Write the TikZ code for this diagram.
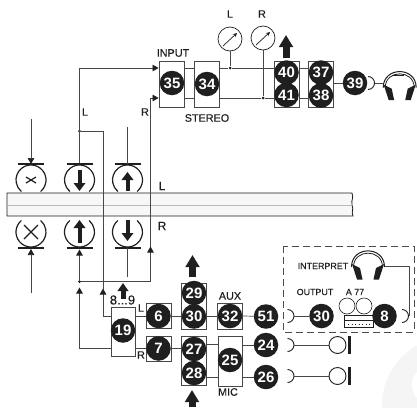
\documentclass[tikz,border=0pt]{standalone}
\usepackage{fontspec}
\setmainfont{Liberation Sans}
\newfontfamily\labfont[FakeBold=0.25]{Liberation Sans}
\usetikzlibrary{arrows.meta}
\definecolor{ink}{gray}{0.12}
\definecolor{wire}{gray}{0.28}
\tikzset{
  x=1pt,y=-1pt,
  wireline/.style={draw=wire,line width=0.7pt},
  tip/.style={-{Triangle[length=6pt,width=6.5pt,color=ink]}},
  num/.style={circle,fill=ink,text=white,inner sep=0pt,minimum size=24.5pt,font=\fontsize{15}{15}\selectfont\bfseries},
  cell/.style={draw=wire,line width=0.8pt,inner sep=0pt,fill=white},
  lab/.style={inner sep=0pt,font=\fontsize{10.8}{11}\labfont,text=ink},
  smalllab/.style={inner sep=0pt,font=\fontsize{8.9}{10}\labfont,text=ink},
  bigarrow/.style={draw=ink,line width=7pt,-{Triangle[length=12pt,width=13.5pt,color=ink]}},
  midarrow/.style={draw=ink,line width=5pt,-{Triangle[length=8pt,width=10.5pt,color=ink]}},
  headarrow/.style={draw=ink,line width=4pt,-{Triangle[length=8pt,width=11.5pt,color=ink]}},
  headbar/.style={draw=ink,line width=2.6pt},
  junction/.style={circle,fill=ink,inner sep=0pt,minimum size=3pt},
  gauge/.style={circle,draw=ink,line width=0.7pt,inner sep=0pt,minimum size=24pt,fill=white},
  phones/.pic={
    \draw[ink,line width=1pt] (-16.5,17) .. controls (-16.5,-4.5) and (16.5,-4.5) .. (16.5,17);
    \draw[ink,line width=0.8pt] (-14.5,17) .. controls (-14.5,-1.5) and (14.5,-1.5) .. (14.5,17);
    \fill[ink] (-16,14) -- (-8,18) -- (-5.5,29.5) -- (-11,29.5) -- cycle;
    \fill[ink] (16,14) -- (8,18) -- (5.5,29.5) -- (11,29.5) -- cycle;
  },
  mic/.pic={
    \draw[ink,line width=0.9pt,fill=white] (0,0) circle[radius=8.5pt];
    \draw[ink,line width=3pt] (11.5,-9) -- (11.5,9);
  }
}
\newcommand{\jackarc}[1]{\draw[ink,line width=0.9pt] ([shift={(90:6.5pt)}]#1) arc[start angle=90,end angle=-90,radius=6.5pt];}
\newcommand{\headtop}[1]{\draw[ink,line width=1.2pt] ([shift={(-50:15pt)}]#1) arc[start angle=-50,end angle=230,radius=15pt];}
\newcommand{\headbot}[1]{\draw[ink,line width=1.2pt] ([shift={(130:15pt)}]#1) arc[start angle=130,end angle=410,radius=15pt];}
\begin{document}
\begin{tikzpicture}
\useasboundingbox (0,0) rectangle (417,407);
% faint disc in the corner
\begin{scope}
\clip (0,0) rectangle (417,407);
\fill[gray!8] (450,405) circle[radius=68pt];
\fill[white] (432,385) circle[radius=20pt];
\end{scope}
% tape
\path[fill=gray!6,draw=ink,line width=0.8pt] (7,193) -- (352,193) .. controls (354,199) and (351,199) .. (352,205) .. controls (354,210) and (351,211) .. (353,216) -- (7,216) -- cycle;
\draw[gray!55,line width=0.8pt] (7,205) -- (352,205);

% upper heads
\coordinate (ht1) at (31,180); \coordinate (ht2) at (79.5,180); \coordinate (ht3) at (127.5,180);
\coordinate (hb1) at (31,232); \coordinate (hb2) at (79.5,232); \coordinate (hb3) at (127.5,232);
\headtop{ht1}\headtop{ht2}\headtop{ht3}
\headbot{hb1}\headbot{hb2}\headbot{hb3}
\foreach \c in {ht1,ht2,ht3}{\draw[headbar] ([shift={(-13,-16)}]\c) -- ([shift={(13,-16)}]\c);}
\foreach \c in {hb1,hb2,hb3}{\draw[headbar] ([shift={(-13,16)}]\c) -- ([shift={(13,16)}]\c);}
\draw[ink,line width=1.2pt] (26,177) -- (36,183) (26,183) -- (36,177);
\draw[ink,line width=1.2pt] (24,225) -- (38,239) (24,239) -- (38,225);
\draw[headarrow] (ht2|-0,170) -- (ht2|-0,191);
\draw[headarrow] (ht3|-0,191) -- (ht3|-0,172);
\draw[headarrow] (hb2|-0,243) -- (hb2|-0,220);
\draw[headarrow] (hb3|-0,220) -- (hb3|-0,241);

% boxes and numbers
\node[cell,minimum width=25pt,minimum height=46pt] (b35) at (171.5,84) {};
\node[cell,minimum width=25pt,minimum height=46pt] (b34) at (207,84) {};
\node[cell,minimum width=25pt,minimum height=46pt] (b40) at (286.5,84) {};
\node[cell,minimum width=25pt,minimum height=46pt] (b37) at (321,84) {};
\node[cell,minimum width=24pt,minimum height=49pt] (b19) at (123,331.5) {};
\node[cell,minimum width=25pt,minimum height=25pt] (b6) at (158.5,316) {};
\node[cell,minimum width=25pt,minimum height=25pt] (b7) at (158.5,348.5) {};
\node[cell,minimum width=25pt,minimum height=46pt] (b29) at (194,306) {};
\node[cell,minimum width=25pt,minimum height=49pt] (b27) at (194,360.5) {};
\node[cell,minimum width=25pt,minimum height=26pt] (b32) at (230,316) {};
\node[cell,minimum width=24pt,minimum height=50pt] (b25) at (230,361) {};

\node[num] (n35) at (172,83) {35};
\node[num] (n34) at (207,84) {34};
\node[num] (n40) at (286.5,72.5) {40};
\node[num] (n41) at (286.5,95) {41};
\node[num] (n37) at (321,72.5) {37};
\node[num] (n38) at (321,95.5) {38};
\node[num] (n39) at (355,83) {39};
\node[num] (n19) at (123,330.5) {19};
\node[num] (n6) at (158.5,316) {6};
\node[num] (n7) at (158.5,348.5) {7};
\node[num] (n29) at (194,293) {29};
\node[num] (n30) at (194,316.5) {30};
\node[num] (n27) at (194,349) {27};
\node[num] (n28) at (194,373) {28};
\node[num] (n32) at (230,316) {32};
\node[num] (n25) at (230,360) {25};
\node[num] (n51) at (266,316.5) {51};
\node[num] (n24) at (266,345) {24};
\node[num] (n26) at (266,377) {26};
\node[num] (n30b) at (321.5,316) {30};

% gauges
\node[gauge] (gl) at (230,39) {};
\node[gauge] (gr) at (263,38) {};
\draw[ink,line width=0.7pt,-{Stealth[length=4pt,width=4pt]}] (223,46) -- (237,33);
\draw[ink,line width=0.7pt,-{Stealth[length=4pt,width=4pt]}] (256,45) -- (270,32);
\coordinate (upl) at (0,68); \coordinate (lol) at (0,98);
\node[junction] (jl) at (230,68) {};
\node[junction] (jr) at (263,98) {};
\draw[wireline] (gl) -- (jl);
\draw[wireline] (gr) -- (jr);

% signal wires, upper
\draw[wireline] (b35.east|-upl) -- (b34.west|-upl);
\draw[wireline] (b35.east|-lol) -- (b34.west|-lol);
\draw[wireline] (b34.east|-upl) -- (jl) -- (b40.west|-upl);
\draw[wireline] (b34.east|-lol) -- (jr) -- (b40.west|-lol);
\draw[wireline] (b40.east|-upl) -- (b37.west|-upl);
\draw[wireline] (b40.east|-lol) -- (b37.west|-lol);
\draw[wireline] (b37.east|-n39) -- (n39);
\coordinate (phoneL) at (384,83);
\coordinate (arc39) at (368,83);
\jackarc{arc39}
\draw[wireline] (374.5,83) -- (phoneL);
\pic at (399.7,70.7) {phones};
\draw[ink,line width=0.7pt] (392,75) -- (404,75);
\draw[bigarrow] (286,58) -- (286,35);

% L / R wires through the tape
\node[junction] (jt) at (79.5,131) {};
\coordinate (gapL) at (79.5,163);
\coordinate (lup) at (79.5,68);
\draw[wireline,tip] (gapL) -- (lup) -- (b35.west|-upl);
\coordinate (cross) at (103,131);
\coordinate (corner19) at (103,316);
\draw[wireline,tip] (b19.west|-corner19) -- (corner19) -- (103,288.5);
\draw[wireline] (103,290) -- (cross) -- (jt);
\coordinate (rtop) at (150.5,98);
\coordinate (rbot) at (150.5,281.5);
\node[junction] (jb) at (79.5,281.5) {};
\draw[wireline,tip] (150.5,250) -- (rtop) -- (b35.west|-lol);
\draw[wireline,tip] (jb) -- (rbot) -- (150.5,246.5);
\draw[wireline,tip] (b19.west|-0,348.5) -- (79.5,348.5) -- (79.5,287.5);
\draw[wireline,tip] (jb) -- (79.5,249.5);
% record and erase feeds
\draw[wireline,tip] (31,119) -- (31,164);
\draw[wireline] (127.5,127) -- (127.5,164);
\draw[wireline,tip] (31,293) -- (31,249);
\draw[wireline] (127.5,277) -- (127.5,248);

% wires, lower
\draw[wireline] (b19.east|-b6) -- (b6.west);
\draw[wireline] (b19.east|-b7) -- (b7.west);
\draw[wireline] (b6.east) -- (b29.west|-b6);
\draw[wireline] (b7.east) -- (b27.west|-b7);
\draw[wireline] (b29.east|-b32) -- (b32.west);
\draw[wireline] (b27.east|-0,344) -- (b25.west|-0,344);
\draw[wireline] (b27.east|-0,377) -- (b25.west|-0,377);
\draw[wireline] (b32.east) -- (n51);
\draw[wireline] (b25.east|-n24) -- (n24);
\draw[wireline] (b25.east|-n26) -- (n26);

% jacks and microphones
\coordinate (j51) at (287.5,316); \coordinate (j24) at (287.5,345); \coordinate (j26) at (287.5,376);
\jackarc{j51}\jackarc{j24}\jackarc{j26}
\coordinate (m24) at (337.5,345); \coordinate (m26) at (337.5,376);
\draw[wireline] (294,316) -- (n30b);
\draw[wireline] (294,345) -- (m24);
\draw[wireline] (294,376) -- (m26);
\pic at (m24) {mic};
\pic at (m26) {mic};

% interpreter group
\draw[gray!60!black,line width=0.7pt,dash pattern=on 7pt off 4pt] (283,246) rectangle (414,332);
\pic at (368,250) {phones};
\coordinate (j8) at (402,316);
\jackarc{j8}
\coordinate (wa) at (409,316); \coordinate (wb) at (409,266);
\draw[wireline] (wa) -- (wb) -- (385,266);
% tape machine
\draw[ink,line width=0.6pt] (347,306) circle[radius=8pt];
\draw[ink,line width=0.6pt] (364,306) circle[radius=8pt];
\draw[ink,line width=0.6pt,fill=white] (344,315) rectangle (373,327);
\draw[ink,line width=0.5pt] (344,320) -- (373,320);
\draw[ink,line width=1pt,dash pattern=on 1pt off 2.5pt] (348,324) -- (370,324);
\node[num] (n8) at (384.5,316) {8};

% labels
\node[lab] (tInput) at (173,53) {INPUT};
\node[lab] (tStereo) at (207,118) {STEREO};
\node[lab] (tGL) at (230,14) {L};
\node[lab] (tGR) at (262,14) {R};
\node[lab] (tL1) at (85,112) {L};
\node[lab] (tR1) at (145,112) {R};
\node[lab,font=\fontsize{12}{12}\labfont] (tTL) at (162,186) {L};
\node[lab,font=\fontsize{12}{12}\labfont] (tTR) at (162,226) {R};
\node[lab,font=\fontsize{13}{13}\labfont] (t89) at (122.5,300) {8...9};
\node[lab] (tLs) at (141,308) {L};
\node[lab] (tRs) at (141,355) {R};
\node[lab] (tAux) at (230,296) {AUX};
\node[lab] (tMic) at (228,392) {MIC};
\node[smalllab] (tInt) at (323,266) {INTERPRET};
\node[smalllab] (tOut) at (315,292) {OUTPUT};
\node[smalllab] (tA) at (355,292) {A 77};

% arrows beside the stacks (over the 8...9 label)
\draw[midarrow] (123,299) -- (123,283);
\draw[bigarrow] (192.5,277) -- (192.5,255);
\draw[bigarrow] (192,407) -- (192,390);
\end{tikzpicture}
\end{document}
